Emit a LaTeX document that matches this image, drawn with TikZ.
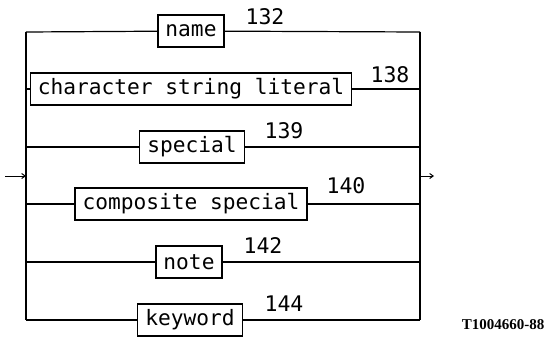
\documentclass[tikz,border=0pt]{standalone}
\usepackage{fontspec}
\newfontfamily\plotfont{DejaVu Sans Mono}
\newfontfamily\idfont{Liberation Serif}
\usepackage{tikz}
\usetikzlibrary{arrows.meta,positioning}

\begin{document}
\begin{tikzpicture}[
    x=1pt, y=-1pt,
    term/.style={draw, line width=1.2pt, font=\plotfont\fontsize{21.2}{23}\selectfont,
                 minimum height=32pt, inner xsep=7.5pt, inner ysep=0pt},
    num/.style={font=\plotfont\fontsize{21.5}{23}\selectfont, inner sep=0pt},
    line/.style={line width=1.2pt},
    arrow/.style={->, line width=1pt, >={Straight Barb[length=3.5pt,width=5pt]}}
]
\useasboundingbox (0,0) rectangle (547,338);

% bars of the choice
\coordinate (L1) at (26,32);
\coordinate (R1) at (420,32);
\coordinate (L6) at (26,320);
\coordinate (R6) at (420,320);
\coordinate (join) at (26,176);
\coordinate (split) at (420,176);
\coordinate (in) at (5,176);
\coordinate (out) at (434,176);

% alternatives
\node[term] (name) at (191,31) {name};
\node[term] (string) at (191,89) {character string literal};
\node[term] (special) at (192,147) {special};
\node[term] (composite) at (191,204) {composite special};
\node[term] (note) at (189,262) {note};
\node[term] (keyword) at (190,320) {keyword};

\node[num] (n132) at (265,17) {132};
\node[num] (n138) at (390,75) {138};
\node[num] (n139) at (284,131) {139};
\node[num] (n140) at (346,186) {140};
\node[num] (n142) at (263,246) {142};
\node[num] (n144) at (284,304) {144};

\draw[line] (L1) -- (L6);
\draw[line] (R1) -- (R6);
\draw[line] (L1) -- (name) -- (R1);
\draw[line] (string.west -| L1) -- (string) -- (string.east -| R1);
\draw[line] (special.west -| L1) -- (special) -- (special.east -| R1);
\draw[line] (composite.west -| L1) -- (composite) -- (composite.east -| R1);
\draw[line] (note.west -| L1) -- (note) -- (note.east -| R1);
\draw[line] (L6) -- (keyword) -- (R6);

\draw[arrow] (in) -- (join);
\draw[arrow] (split) -- (out);

\node[font=\idfont\bfseries\fontsize{15}{16}\selectfont, inner sep=0pt] (id) at (503,325) {T1004660-88};
\end{tikzpicture}
\end{document}
